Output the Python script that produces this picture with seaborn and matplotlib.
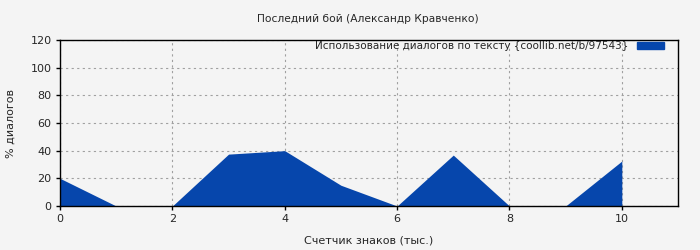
import matplotlib
matplotlib.use("Agg")
import matplotlib.pyplot as plt
import seaborn as sns
import pandas as pd
from matplotlib.patches import Patch

x_vals = [0, 1, 2, 3, 4, 5, 6, 7, 8, 9, 10]
y_vals = [20, 0, 0, 37.5, 40, 15, 0, 36.8, 0, 0, 32.5]
title = "Последний бой (Александр Кравченко)"
series_label = "Использование диалогов по тексту {coollib.net/b/97543}"
x_label = "Счетчик знаков (тыс.)"
y_label = "% диалогов"

sns.set_style("white")
plt.rcParams['font.family'] = ['DejaVu Sans']
plt.rcParams['font.size'] = 8

df = pd.DataFrame({"x": x_vals, "y": y_vals})
color = "#0646AC"
bg = "#f4f4f4"

fig = plt.figure(figsize=(7, 2.5), dpi=100, facecolor=bg)
ax = fig.add_axes([60/700, 44/250, 618/700, 166/250])
ax.set_facecolor(bg)

sns.lineplot(data=df, x="x", y="y", ax=ax, color=color, linewidth=0)
ax.fill_between(df["x"], df["y"], 0, color=color, linewidth=0)

ax.set_xlim(0, 11)
ax.set_ylim(0, 120)
ax.set_xticks([0, 2, 4, 6, 8, 10])
ax.set_yticks([0, 20, 40, 60, 80, 100, 120])
ax.grid(True, color="#a0a0a0", linestyle=(0, (2, 3)), linewidth=0.8)
for s in ax.spines.values():
    s.set_color("black")
    s.set_linewidth(1)
ax.tick_params(axis="both", direction="out", length=3, width=1, color="black", labelsize=8, pad=3,
               left=True, bottom=True)

ax.set_xlabel(x_label, fontsize=8, labelpad=8)
ax.set_ylabel(y_label, fontsize=8, labelpad=11)
fig.text(0.525, 0.922, title, ha="center", va="center", fontsize=7.7)

leg = ax.legend(handles=[Patch(color=color, label=series_label)], loc="upper right",
                bbox_to_anchor=((666 - 60) / 618, 1.005),
                frameon=False, markerfirst=False, fontsize=7.5, handlelength=2.6,
                handleheight=0.55, borderaxespad=0, borderpad=0.2, handletextpad=0.8)

fig.savefig("out.png", dpi=100, facecolor=bg)
